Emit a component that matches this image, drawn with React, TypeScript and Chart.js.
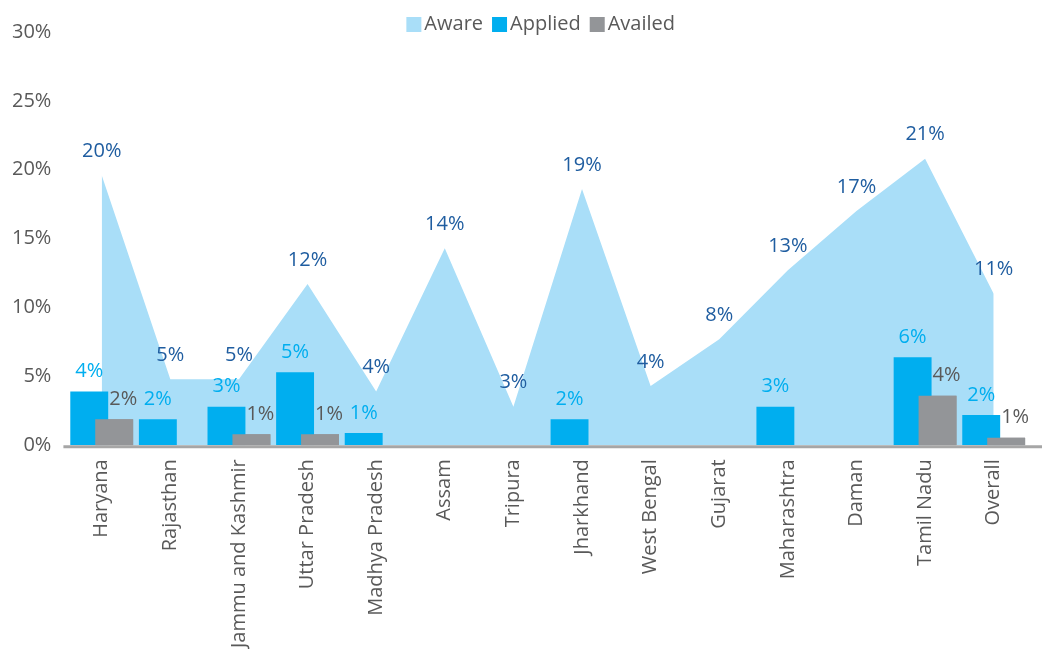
import React, { useEffect, useRef } from "react";
import { Chart, registerables } from "chart.js";

Chart.register(...registerables);

const categories = [
  "Haryana",
  "Rajasthan",
  "Jammu and Kashmir",
  "Uttar Pradesh",
  "Madhya Pradesh",
  "Assam",
  "Tripura",
  "Jharkhand",
  "West Bengal",
  "Gujarat",
  "Maharashtra",
  "Daman",
  "Tamil Nadu",
  "Overall",
];
const aware = [19.6, 4.8, 4.8, 11.7, 3.9, 14.3, 2.8, 18.6, 4.3, 7.7, 12.7, 17.0, 20.8, 11.0];
const applied = [3.9, 1.9, 2.8, 5.3, 0.9, null, null, 1.9, null, null, 2.8, null, 6.4, 2.2];
const availed = [1.9, null, 0.8, 0.8, null, null, null, null, null, null, null, null, 3.6, 0.55];
const yTicks = [0, 5, 10, 15, 20, 25, 30];

const FONT = '"Open Sans", "Noto Sans", sans-serif';
const TEXT = "#595959";
const C_AWARE = "#A9DEF8";
const C_APPLIED = "#00AEEF";
const C_AVAILED = "#939598";
const C_AXIS = "#A6A6A6";

const labelStyles: Record<string, { color: string; dx: number; dy: number }> = {
  Aware: { color: "#1F5DA0", dx: 0, dy: 24 },
  Applied: { color: "#00AEEF", dx: 0, dy: 20 },
  Availed: { color: "#595959", dx: 9, dy: 20 },
};

const overlayPlugin = {
  id: "overlay",
  afterDatasetsDraw(chart: any) {
    const ctx = chart.ctx;
    // draw "Availed" bars on top of the overlapping "Applied" bars
    chart.data.datasets.forEach((ds: any, i: number) => {
      if (ds.label === "Availed") chart.getDatasetMeta(i).controller.draw();
    });
    // axis line
    const { chartArea } = chart;
    ctx.save();
    ctx.strokeStyle = C_AXIS;
    ctx.lineWidth = 3;
    ctx.beginPath();
    ctx.moveTo(chartArea.left - 4, chartArea.bottom + 1.5);
    ctx.lineTo(chart.width, chartArea.bottom + 1.5);
    ctx.stroke();
    ctx.restore();
    // value labels
    ctx.save();
    ctx.font = `20px ${FONT}`;
    ctx.textAlign = "center";
    ctx.textBaseline = "middle";
    chart.data.datasets.forEach((ds: any, i: number) => {
      const st = labelStyles[ds.label];
      if (!st) return;
      const meta = chart.getDatasetMeta(i);
      meta.data.forEach((el: any, j: number) => {
        const v = ds.data[j];
        if (v === null || v === undefined) return;
        ctx.fillStyle = st.color;
        ctx.fillText(Math.round(v) + "%", el.x + st.dx, el.y - st.dy);
      });
    });
    ctx.restore();
  },
  afterDraw(chart: any) {
    const ctx = chart.ctx;
    const items = chart.data.datasets.map((ds: any) => ({ text: ds.label, color: ds.backgroundColor }));
    ctx.save();
    ctx.font = `20px ${FONT}`;
    ctx.textAlign = "left";
    ctx.textBaseline = "middle";
    const box = 15;
    const gapBT = 3;
    const gapItems = 9;
    const widths = items.map((it: any) => box + gapBT + ctx.measureText(it.text).width);
    const total = widths.reduce((a: number, b: number) => a + b, 0) + gapItems * (items.length - 1);
    let x = (chart.chartArea.left + chart.chartArea.right) / 2 - 7 - total / 2;
    const cy = 24;
    items.forEach((it: any, i: number) => {
      ctx.fillStyle = it.color;
      ctx.fillRect(x, cy - 7, box, box);
      ctx.fillStyle = TEXT;
      ctx.fillText(it.text, x + box + gapBT, cy);
      x += widths[i] + gapItems;
    });
    ctx.restore();
  },
};

export default function App() {
  const ref = useRef<HTMLCanvasElement | null>(null);

  useEffect(() => {
    document.body.style.margin = "0";
    const canvas = ref.current;
    if (!canvas) return;
    const chart = new Chart(canvas, {
      type: "bar",
      data: {
        labels: categories,
        datasets: [
          {
            type: "line",
            label: "Aware",
            data: aware,
            backgroundColor: C_AWARE,
            borderColor: C_AWARE,
            borderWidth: 0,
            pointRadius: 0,
            fill: "origin",
            tension: 0,
            order: 2,
          } as any,
          {
            label: "Applied",
            data: applied,
            backgroundColor: C_APPLIED,
            order: 1,
          },
          {
            label: "Availed",
            data: availed,
            backgroundColor: C_AVAILED,
            order: 1,
          },
        ],
      },
      options: {
        animation: false,
        responsive: true,
        maintainAspectRatio: false,
        datasets: {
          bar: {
            categoryPercentage: 0.727,
            barPercentage: 1.52,
          },
        },
        layout: { padding: { left: 2, right: 14, top: 32, bottom: 0 } },
        plugins: {
          tooltip: { enabled: false },
          legend: { display: false },
        },
        scales: {
          x: {
            type: "category",
            offset: true,
            grid: { display: false, drawTicks: false },
            border: { display: false },
            ticks: {
              color: TEXT,
              font: { family: FONT, size: 20 },
              minRotation: 90,
              maxRotation: 90,
              padding: 14,
              autoSkip: false,
            },
          },
          y: {
            min: 0,
            max: 30,
            grid: { display: false, drawTicks: true, tickLength: 6 },
            border: { display: false },
            afterBuildTicks: (scale: any) => {
              scale.ticks = yTicks.map((v) => ({ value: v }));
            },
            ticks: {
              color: TEXT,
              font: { family: FONT, size: 20 },
              padding: 10,
              callback: (v: any) => v + "%",
            },
          },
        },
      },
      plugins: [overlayPlugin],
    });
    return () => chart.destroy();
  }, []);

  return (
    <div style={{ width: 1042, height: 649, overflow: "hidden", position: "relative", background: "#fff" }}>
      <div style={{ width: 1042, height: 662, position: "relative" }}>
        <canvas ref={ref} />
      </div>
    </div>
  );
}
